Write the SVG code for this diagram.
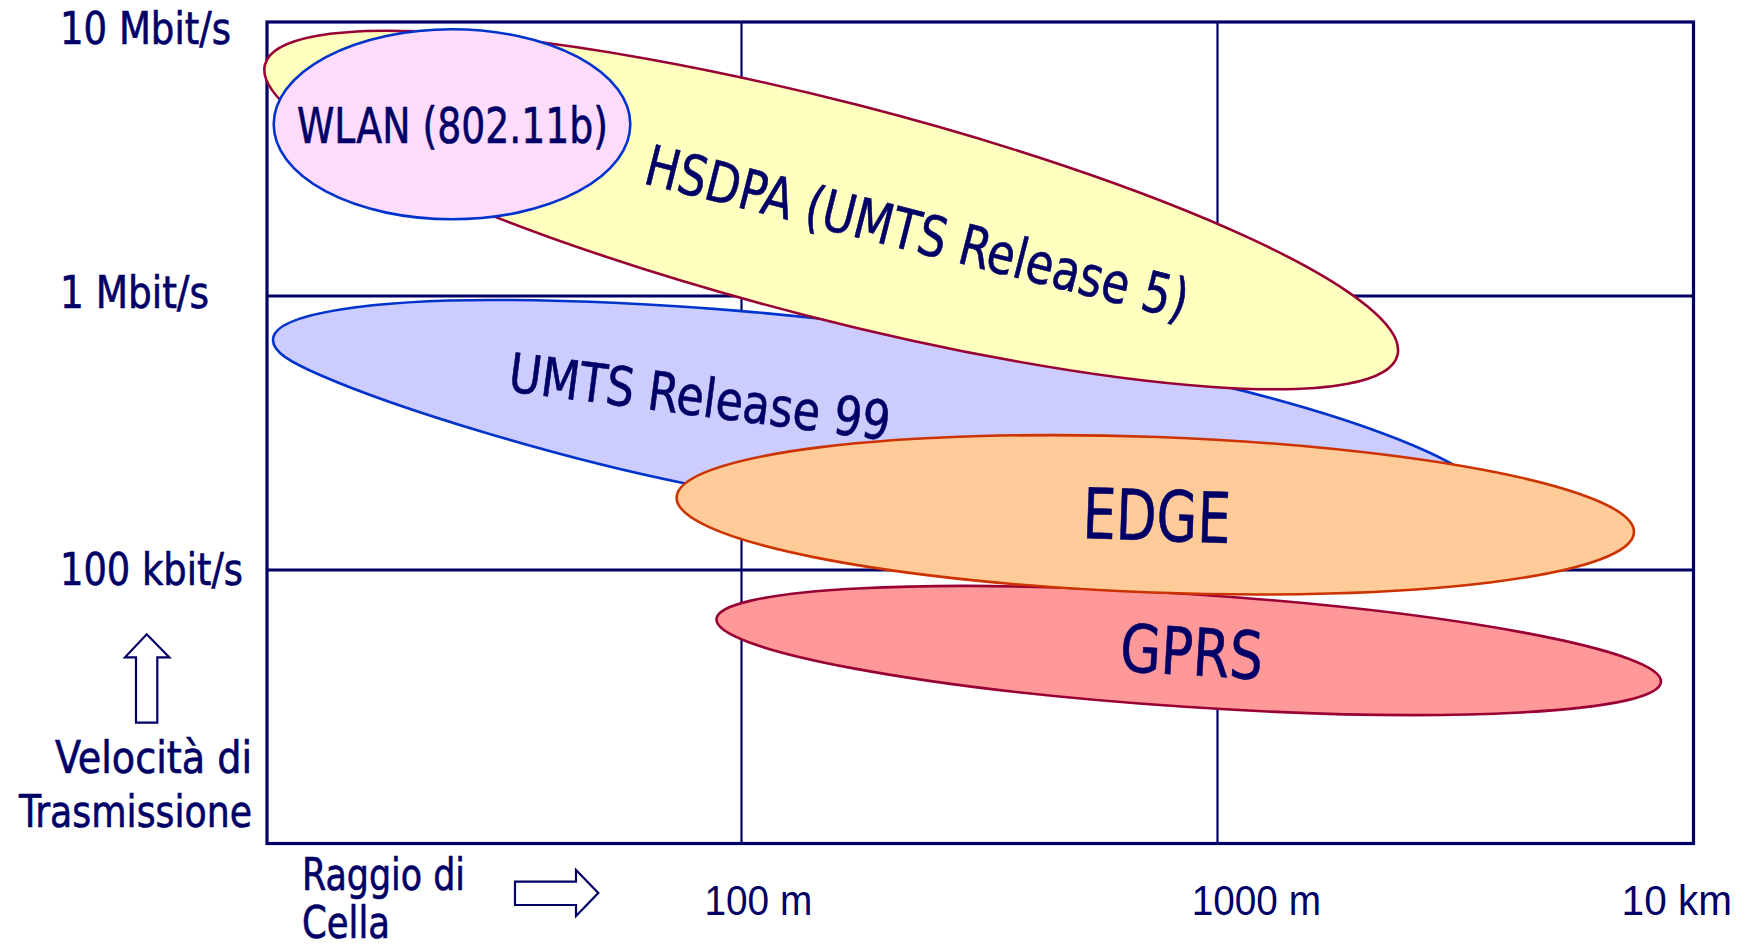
<svg xmlns="http://www.w3.org/2000/svg" width="1746" height="946" viewBox="0 0 1746 946">
<style>
.t{font-family:"DejaVu Sans Condensed","DejaVu Sans",sans-serif;fill:#000066;stroke:#000066;stroke-width:0.6}
.n{font-family:"Liberation Sans Narrow","Liberation Sans",Arial,sans-serif;fill:#000066}
.g{stroke:#000066;fill:none}
.arr{fill:#fff;stroke:#000066;stroke-width:2.2}
.sh{stroke-width:2.6}
</style>
<rect width="1746" height="946" fill="#fff"/>
<g id="grid" class="g">
<line x1="741.5" y1="22" x2="741.5" y2="843.5" stroke-width="2.2"/>
<line x1="1217.5" y1="22" x2="1217.5" y2="843.5" stroke-width="2.2"/>
<line x1="267" y1="296" x2="1693.5" y2="296" stroke-width="3.2"/>
<line x1="267" y1="570" x2="1693.5" y2="570" stroke-width="3.2"/>
<rect x="267" y="22" width="1426.5" height="821.5" stroke-width="3.2"/>
</g>
<g id="axis-labels">
<text class="t" x="60" y="44" font-size="44" textLength="171" lengthAdjust="spacingAndGlyphs">10 Mbit/s</text>
<text class="t" x="60" y="308" font-size="44" textLength="149" lengthAdjust="spacingAndGlyphs">1 Mbit/s</text>
<text class="t" x="60" y="585" font-size="44" textLength="183" lengthAdjust="spacingAndGlyphs">100 kbit/s</text>
<text class="t" x="55" y="773" font-size="44" textLength="197" lengthAdjust="spacingAndGlyphs">Velocità di</text>
<text class="t" x="19" y="827" font-size="44" textLength="233" lengthAdjust="spacingAndGlyphs">Trasmissione</text>
<text class="t" x="302" y="890" font-size="44" textLength="163" lengthAdjust="spacingAndGlyphs">Raggio di</text>
<text class="t" x="302" y="938" font-size="44" textLength="88" lengthAdjust="spacingAndGlyphs">Cella</text>
<text class="n" x="704.5" y="915" font-size="43" textLength="107.7" lengthAdjust="spacingAndGlyphs">100 m</text>
<text class="n" x="1191.7" y="915" font-size="43" textLength="129.3" lengthAdjust="spacingAndGlyphs">1000 m</text>
<text class="n" x="1621.6" y="915" font-size="43" textLength="110.4" lengthAdjust="spacingAndGlyphs">10 km</text>
</g>
<g id="axis-arrows">
<polygon class="arr" points="146.7,634.3 169.3,657.3 157.3,657.3 157.3,722.7 136,722.7 136,657.3 125,657.3"/>
<polygon class="arr" points="515,881.7 576,881.7 576,870 598.3,893 576,916 576,905 515,905"/>
</g>
<g id="umts-r99">
<path class="sh" fill="#ccccff" stroke="#0033cc" d="M273,340 C273,312 380,300 493,300 C800,300 1200,360 1400,440 C1480,472 1510,500 1470,515 C1400,535 1000,540 683,483 C560,458 400,410 320,375 C290,362 273,352 273,340 Z"/>
<text class="t" transform="translate(507,391) rotate(7.4)" font-size="54" textLength="384" lengthAdjust="spacingAndGlyphs">UMTS Release 99</text>
</g>
<g id="hsdpa">
<ellipse class="sh" cx="831.2" cy="210" rx="584.6" ry="108.3" transform="rotate(14.4 831.2 210)" fill="#ffffbf" stroke="#990033"/>
<text class="t" transform="translate(642,183) rotate(14.2)" font-size="56" textLength="558" lengthAdjust="spacingAndGlyphs">HSDPA (UMTS Release 5)</text>
</g>
<g id="wlan">
<ellipse class="sh" cx="452" cy="124.3" rx="178.3" ry="95" fill="#ffdcfc" stroke="#0033cc"/>
<text class="t" x="297" y="142.7" font-size="50" textLength="311" lengthAdjust="spacingAndGlyphs">WLAN (802.11b)</text>
</g>
<g id="gprs">
<ellipse class="sh" cx="1188.7" cy="650.5" rx="473.3" ry="56.4" transform="rotate(3.8 1188.7 650.5)" fill="#ff9999" stroke="#990033"/>
<text class="t" transform="translate(1119,671) rotate(3.4)" font-size="66" textLength="143" lengthAdjust="spacingAndGlyphs">GPRS</text>
</g>
<g id="edge">
<ellipse class="sh" cx="1155.3" cy="514.8" rx="479" ry="77.8" transform="rotate(2.1 1155.3 514.8)" fill="#ffcc99" stroke="#cc3300"/>
<text class="t" transform="translate(1082,538) rotate(2)" font-size="70" textLength="148" lengthAdjust="spacingAndGlyphs">EDGE</text>
</g>
</svg>
